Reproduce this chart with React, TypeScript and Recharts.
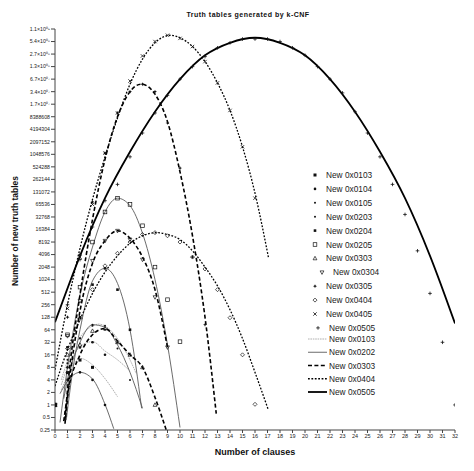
import React from 'react';
import { ComposedChart, Line, Scatter, XAxis, YAxis, Legend } from 'recharts';

type P = [number, number];
// x = number of clauses, y = log2(number of new truth tables)

const xTicks = [0, 1, 2, 3, 4, 5, 6, 7, 8, 9, 10, 11, 12, 13, 14, 15, 16, 17, 18, 19, 20, 21, 22, 23, 24, 25, 26, 27, 28, 29, 30, 31, 32];
const yTicks = [-2, -1, 0, 1, 2, 3, 4, 5, 6, 7, 8, 9, 10, 11, 12, 13, 14, 15, 16, 17, 18, 19, 20, 21, 22, 23, 24, 25, 26, 27, 28, 29, 30];
const yTickLabels = ['0.25', '0.5', '1', '2', '4', '8', '16', '32', '64', '128', '256', '512', '1024', '2048', '4096', '8192', '16384', '32768', '65536', '131072', '262144', '524288', '1048576', '2097152', '4194304', '8388608', '1.7×10⁰⁷', '3.4×10⁰⁷', '6.7×10⁰⁷', '1.3×10⁰⁸', '2.7×10⁰⁸', '5.4×10⁰⁸', '1.1×10⁰⁹'];

// measured points
const pts0103: P[] = [[0, 0], [1, 2.58], [2, 3.58], [3, 3.0]];
const pts0104: P[] = [[0, 0], [1, 3.0], [2, 4.58], [3, 5.0], [4, 4.0]];
const pts0105: P[] = [[0, 0], [1, 3.32], [2, 5.32], [3, 6.32], [4, 6.32], [5, 5.0]];
const pts0202: P[] = [[0, 0], [1, 2.0], [2, 2.6], [3, 2.0], [4, 0]];
const pts0203: P[] = [[0, 0], [1, 3.6], [2, 5.3], [3, 6.4], [4, 6.0], [5, 4.5], [6, 2.0]];
const pts0204: P[] = [[0, 0], [1, 4.6], [2, 7.0], [3, 9.6], [4, 10.9], [5, 9.2], [6, 6.0]];
const pts0205: P[] = [[0, 0], [1, 5.6], [2, 9.4], [3, 13.0], [4, 15.4], [5, 16.5], [6, 16.0], [7, 14.3], [8, 11.0], [9, 8.4], [10, 5.05]];
const pts0303: P[] = [[0, 0], [1, 4.0], [2, 4.8], [3, 5.9], [4, 6.1], [5, 5.0], [6, 4.0], [7, 3.0], [8, 0]];
const pts0304: P[] = [[0, 0], [1, 5.5], [2, 8.3], [3, 11.5], [4, 13.1], [5, 13.9], [6, 13.2], [7, 11.6], [8, 8.6], [9, 4.6]];
const pts0305: P[] = [[0, 0], [1, 7.0], [2, 12.0], [3, 16.2], [4, 20.1], [5, 23.3], [6, 25.0], [7, 25.6], [8, 25.0], [9, 22.5], [10, 18.9], [11, 11.8], [12, 6.4]];
const pts0404: P[] = [[0, 0], [1, 4.5], [2, 6.9], [3, 9.2], [4, 11.1], [5, 12.1], [6, 13.0], [7, 13.6], [8, 13.75], [9, 13.5], [10, 13.0], [11, 11.8], [12, 10.85], [13, 9.2], [14, 6.96], [15, 4.0], [16, 0.05]];
const pts0405: P[] = [[0, 0], [1, 7.7], [2, 11.8], [3, 16.0], [4, 20.1], [5, 23.3], [6, 25.85], [7, 27.85], [8, 29.0], [9, 29.5], [10, 29.25], [11, 28.6], [12, 27.4], [13, 25.7], [14, 23.5], [15, 20.6], [16, 16.5]];
const pts0505: P[] = [[0, 0], [1, 8.0], [2, 11.6], [3, 14.2], [4, 16.3], [5, 17.6], [6, 19.8], [7, 21.7], [8, 23.3], [9, 24.7], [10, 26.0], [11, 27.0], [12, 27.8], [13, 28.5], [14, 28.9], [15, 29.2], [16, 29.2], [17, 29.2], [18, 29.0], [19, 28.5], [20, 27.9], [21, 27.0], [22, 26.0], [23, 24.9], [24, 23.4], [25, 21.7], [26, 19.8], [27, 17.6], [28, 15.2], [29, 12.3], [30, 8.9], [31, 5.0], [32, 0.0]];

// fitted curves
const fit0103: P[] = [[0.5, 1.2], [1, 2.3], [2, 3.72], [3, 3.2], [4, 2.1], [5, 0.66]];
const fit0104: P[] = [[0.5, 1.6], [1, 3.0], [2, 4.65], [3, 5.05], [4, 4.3], [5, 3.6], [5.9, 2.8]];
const fit0105: P[] = [[0.5, 2.0], [1, 3.5], [2, 5.4], [3, 6.3], [3.5, 6.45], [4, 6.3], [5, 5.3], [6, 3.6], [6.5, 2.5]];
const fit0202: P[] = [[0.4, 0.9], [1, 1.9], [2, 2.6], [3, 2.07], [4, 0.05], [4.7, -1.9]];
const fit0203: P[] = [[0.7, 0.5], [1, 2.0], [2, 5.0], [3, 6.4], [4, 6.2], [5, 4.8], [6, 2.6], [7, -0.27]];
const fit0204: P[] = [[0.9, -1.2], [1.5, 3.3], [2, 6.0], [3, 9.9], [4, 10.9], [5, 9.7], [6, 6.0], [6.93, -0.27]];
const fit0205: P[] = [[0.4, -1.4], [1, 3.0], [2, 8.8], [3, 12.6], [4, 15.4], [5, 16.5], [6, 15.9], [7, 13.7], [8, 10.0], [9, 4.8], [10, -1.8]];
const fit0303: P[] = [[0.7, -1.3], [1, 0.8], [2, 4.0], [3, 5.6], [4, 6.1], [5, 5.1], [6, 4.0], [7, 3.0], [8, 0.6], [8.9, -2]];
const fit0304: P[] = [[0.8, -1.5], [1, 0.5], [2, 7.5], [3, 11.3], [4, 13.1], [5, 13.9], [6, 13.3], [7, 11.8], [8, 9.2], [9, 4.6]];
const fit0305: P[] = [[0.8, -1.2], [1, 1.2], [2, 8.8], [3, 14.8], [4, 19.6], [5, 23.0], [6, 25.0], [6.9, 25.6], [8, 24.8], [9, 22.6], [10, 18.6], [11, 13.5], [12, 7.0], [12.9, -0.7]];
const fit0404: P[] = [[0, 1.5], [1, 4.4], [2, 6.8], [3, 8.9], [4, 10.6], [5, 11.9], [6, 12.9], [7, 13.5], [8.2, 13.75], [9, 13.6], [10, 13.2], [11, 12.3], [12, 11.0], [13, 9.5], [14, 7.6], [15, 5.3], [16, 2.6], [17.07, -0.4]];
const fit0405: P[] = [[0, 2.8], [1, 8.0], [2, 12.5], [3, 16.4], [4, 19.8], [5, 22.9], [6, 25.6], [7, 27.6], [8, 28.9], [9.2, 29.5], [10, 29.3], [11, 28.6], [12, 27.4], [13, 25.7], [14, 23.5], [15, 20.6], [16, 16.9], [17.07, 11.8]];
const fit0505: P[] = [[0, 6.6], [2, 11.9], [4, 16.5], [6, 20.2], [8, 23.4], [10, 26.0], [12, 27.9], [14, 28.9], [16, 29.3], [18, 28.9], [20, 27.9], [22, 26.0], [24, 23.4], [26, 20.2], [28, 16.5], [30, 11.9], [32, 6.5]];

const pointNames = ['New 0x0103', 'New 0x0104', 'New 0x0105', 'New 0x0203', 'New 0x0204', 'New 0x0205', 'New 0x0303', 'New 0x0304', 'New 0x0305', 'New 0x0404', 'New 0x0405', 'New 0x0505'];
const lineNames = ['New 0x0103', 'New 0x0202', 'New 0x0303', 'New 0x0404', 'New 0x0505'];

const FONT = '"Liberation Sans", Arial, sans-serif';
const INK = '#111';

const lineStyles: Record<number, { stroke: string; width: number; dash?: string }> = {
  1: { stroke: '#9c9c9c', width: 0.8, dash: '1.6 0.8' },
  2: { stroke: '#5a5a5a', width: 0.9 },
  3: { stroke: '#000', width: 1.6, dash: '4 2.4' },
  4: { stroke: '#000', width: 1.3, dash: '1.8 1.6' },
  5: { stroke: '#000', width: 1.8 },
};

function Marker({ kind, cx, cy }: { kind: string; cx: number; cy: number }) {
  if (cx == null || cy == null || isNaN(cx) || isNaN(cy)) return null;
  switch (kind) {
    case 'fsquare':
      return <rect x={cx - 1.5} y={cy - 1.5} width={3} height={3} fill={INK} />;
    case 'fsquareS':
      return <rect x={cx - 1.3} y={cy - 1.3} width={2.6} height={2.6} fill={INK} />;
    case 'dot':
      return <circle cx={cx} cy={cy} r={1.3} fill={INK} />;
    case 'dotS':
      return <circle cx={cx} cy={cy} r={1.0} fill={INK} />;
    case 'osquare':
      return <rect x={cx - 1.8} y={cy - 1.8} width={3.6} height={3.6} fill="none" stroke={INK} strokeWidth={0.7} />;
    case 'otri':
      return <path d={`M${cx},${cy - 2.1}L${cx + 1.9},${cy + 1.4}L${cx - 1.9},${cy + 1.4}Z`} fill="none" stroke={INK} strokeWidth={0.7} />;
    case 'otriD':
      return <path d={`M${cx},${cy + 2.1}L${cx + 1.9},${cy - 1.4}L${cx - 1.9},${cy - 1.4}Z`} fill="none" stroke={INK} strokeWidth={0.7} />;
    case 'star':
      return (
        <path
          d={`M${cx},${cy - 2}L${cx + 0.6},${cy - 0.6}L${cx + 2},${cy}L${cx + 0.6},${cy + 0.6}L${cx},${cy + 2}L${cx - 0.6},${cy + 0.6}L${cx - 2},${cy}L${cx - 0.6},${cy - 0.6}Z`}
          fill={INK}
        />
      );
    case 'odiamond':
      return <path d={`M${cx},${cy - 2}L${cx + 2},${cy}L${cx},${cy + 2}L${cx - 2},${cy}Z`} fill="none" stroke={INK} strokeWidth={0.7} />;
    case 'cross':
      return <path d={`M${cx - 1.7},${cy - 1.7}L${cx + 1.7},${cy + 1.7}M${cx - 1.7},${cy + 1.7}L${cx + 1.7},${cy - 1.7}`} stroke={INK} strokeWidth={0.8} />;
    case 'plus':
      return <path d={`M${cx - 1.8},${cy}L${cx + 1.8},${cy}M${cx},${cy - 1.8}L${cx},${cy + 1.8}`} stroke={INK} strokeWidth={0.8} />;
    default:
      return <circle cx={cx} cy={cy} r={1.2} fill={INK} />;
  }
}

const rows = (p: P[]) => p.map(([x, y]) => ({ x, y }));

const pointSeries = [
  { id: 'p0103', data: pts0103, marker: 'fsquare' },
  { id: 'p0104', data: pts0104, marker: 'dot' },
  { id: 'p0105', data: pts0105, marker: 'dotS' },
  { id: 'p0203', data: pts0203, marker: 'dotS' },
  { id: 'p0204', data: pts0204, marker: 'fsquareS' },
  { id: 'p0205', data: pts0205, marker: 'osquare' },
  { id: 'p0303', data: pts0303, marker: 'otri' },
  { id: 'p0304', data: pts0304, marker: 'otriD' },
  { id: 'p0305', data: pts0305, marker: 'star' },
  { id: 'p0404', data: pts0404, marker: 'odiamond' },
  { id: 'p0405', data: pts0405, marker: 'cross' },
  { id: 'p0505', data: pts0505, marker: 'plus' },
];

const fitSeries = [
  { id: 'f0103', data: fit0103, k: 1 },
  { id: 'f0104', data: fit0104, k: 1 },
  { id: 'f0105', data: fit0105, k: 1 },
  { id: 'f0202', data: fit0202, k: 2 },
  { id: 'f0203', data: fit0203, k: 2 },
  { id: 'f0204', data: fit0204, k: 2 },
  { id: 'f0205', data: fit0205, k: 2 },
  { id: 'f0303', data: fit0303, k: 3 },
  { id: 'f0304', data: fit0304, k: 3 },
  { id: 'f0305', data: fit0305, k: 3 },
  { id: 'f0404', data: fit0404, k: 4 },
  { id: 'f0405', data: fit0405, k: 4 },
  { id: 'f0505', data: fit0505, k: 5 },
];

function LegendBox() {
  const pointX = [315, 315, 315, 315, 315, 315, 315, 322, 315, 315, 315, 318];
  return (
    <svg width={474} height={471} style={{ position: 'absolute', left: 0, top: 0 }}>
      {pointNames.map((n, i) => {
        const y = 175 + i * 13.9;
        const mx = pointX[i];
        return (
          <g key={'pl' + i}>
            <Marker kind={pointSeries[i].marker} cx={mx} cy={y} />
            <text x={mx + 11} y={y} dominantBaseline="central" fontSize={8.3} fontFamily={FONT} fill="#222">
              {n}
            </text>
          </g>
        );
      })}
      {lineNames.map((n, i) => {
        const y = 339 + i * 13.25;
        const st = lineStyles[i + 1];
        return (
          <g key={'ll' + i}>
            <line x1={308} x2={327} y1={y} y2={y} stroke={st.stroke} strokeWidth={st.width} strokeDasharray={st.dash} />
            <text x={329} y={y} dominantBaseline="central" fontSize={8.3} fontFamily={FONT} fill="#222">
              {n}
            </text>
          </g>
        );
      })}
    </svg>
  );
}

export default function App() {
  return (
    <div style={{ position: 'absolute', left: 0, top: 0, width: 474, height: 471, background: '#fff' }}>
      <ComposedChart width={474} height={471} margin={{ top: 29, right: 19, bottom: 8, left: 0 }}>
        <XAxis
          type="number"
          dataKey="x"
          domain={[0, 32]}
          ticks={xTicks}
          interval={0}
          allowDataOverflow
          tickSize={3}
          tickMargin={1.5}
          height={33}
          axisLine={{ stroke: '#444' }}
          tickLine={{ stroke: '#444' }}
          tick={{ fontSize: 5.5, fill: '#222', fontFamily: FONT }}
          label={() => (
            <text x={255} y={452} textAnchor="middle" dominantBaseline="central" fontSize={9} fontWeight="bold" fontFamily={FONT} fill="#111">
              Number of clauses
            </text>
          )}
        />
        <YAxis
          type="number"
          dataKey="y"
          domain={[-2, 30]}
          ticks={yTicks}
          interval={0}
          allowDataOverflow
          width={55}
          tickSize={4}
          tickMargin={1}
          axisLine={{ stroke: '#444' }}
          tickLine={{ stroke: '#444' }}
          tick={{ fontSize: 5.2, fill: '#222', fontFamily: FONT }}
          tickFormatter={(v: number) => yTickLabels[yTicks.indexOf(v)] ?? ''}
          label={() => (
            <text
              x={0}
              y={0}
              transform="translate(14.5,231) rotate(-90)"
              textAnchor="middle"
              dominantBaseline="central"
              fontSize={8.5}
              fontWeight="bold"
              fontFamily={FONT}
              fill="#111"
            >
              Number of new truth tables
            </text>
          )}
        />
        {fitSeries.map((s) => {
          const st = lineStyles[s.k];
          return (
            <Line
              key={s.id}
              name={s.id}
              data={rows(s.data)}
              dataKey="y"
              type="monotone"
              stroke={st.stroke}
              strokeWidth={st.width}
              strokeDasharray={st.dash}
              dot={false}
              activeDot={false}
              legendType="none"
              isAnimationActive={false}
            />
          );
        })}
        {[...pointSeries, { id: 'p0202', data: pts0202, marker: 'dot' }].map((s) => (
          <Scatter
            key={s.id}
            name={s.id}
            data={rows(s.data)}
            dataKey="y"
            legendType="none"
            isAnimationActive={false}
            shape={(p: any) => <Marker kind={s.marker} cx={p.cx} cy={p.cy} />}
          />
        ))}
        <Legend
          layout="vertical"
          align="center"
          verticalAlign="middle"
          wrapperStyle={{ position: 'absolute', left: 0, top: 0, width: 474, height: 471, pointerEvents: 'none' }}
          content={() => <LegendBox />}
        />
      </ComposedChart>
      <div
        style={{
          position: 'absolute',
          left: 0,
          top: 9,
          width: 496,
          textAlign: 'center',
          fontFamily: FONT,
          fontWeight: 'bold',
          fontSize: 7,
          letterSpacing: 0.5,
          color: '#111',
          lineHeight: '12px',
          whiteSpace: 'nowrap',
        }}
      >
        Truth tables generated by k-CNF
      </div>
    </div>
  );
}
